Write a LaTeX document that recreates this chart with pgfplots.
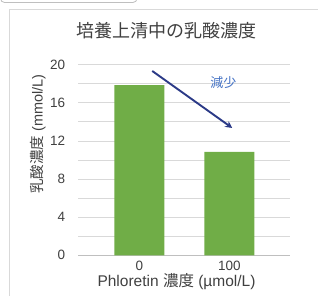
\documentclass[border=0pt]{standalone}
\usepackage{pgfplots}
\pgfplotsset{compat=1.18}
\usetikzlibrary{arrows.meta}
\usepackage{fontspec}
\setmainfont{Liberation Sans}
\newfontfamily\cjk{Noto Sans CJK JP}
\definecolor{barg}{HTML}{70AD47}
\definecolor{gridc}{HTML}{D9D9D9}
\definecolor{axc}{HTML}{BFBFBF}
\definecolor{txt}{HTML}{404040}
\definecolor{arrc}{HTML}{2B3A87}
\definecolor{lblue}{HTML}{4472C4}
\begin{document}
\begin{tikzpicture}[x=1pt,y=1pt]
\useasboundingbox (0,0) rectangle (318,296);
\draw[color=gridc, line width=1pt] (9.5,0) -- (9.5,286) -- (318,286);
\begin{scope}
\clip (0,0) rectangle (318,296);
\draw[color=axc, line width=0.8pt, rounded corners=4pt] (0.5,300) -- (0.5,293.5) -- (137,293.5) -- (137,300);
\end{scope}
\node[font=\cjk\fontsize{18}{21}\selectfont, text=txt] at (166.5,265) {培養上清中の乳酸濃度};
\node[rotate=90, font=\fontsize{14.5}{16}\selectfont, text=txt, inner sep=0pt] at (38,162) {{\cjk 乳酸濃度} (mmol/L)};
\node[font=\fontsize{15.5}{18}\selectfont, text=txt, inner sep=0pt] at (176.5,14) {Phloretin {\cjk 濃度} (µmol/L)};
\begin{axis}[
  at={(87,42.7)}, anchor=south west,
  width=212pt, height=190.6pt, scale only axis,
  xmin=-0.678, xmax=1.678, ymin=0, ymax=20,
  xtick={0,1}, xticklabels={0,100},
  ytick={0,4,...,20}, minor ytick={2,6,...,18},
  ymajorgrids, yminorgrids,
  major grid style={color=gridc, line width=0.8pt},
  minor grid style={color=gridc, line width=0.8pt},
  major tick length=0pt, minor tick length=0pt,
  axis x line*=bottom, axis y line*=left,
  x axis line style={color=axc, line width=1.2pt, -},
  y axis line style={draw=none},
  /pgf/number format/assume math mode=true,
  tick label style={font=\fontsize{13.5}{15}\selectfont, text=txt},
  yticklabel style={inner sep=0pt, anchor=east, xshift=-13pt},
  xticklabel style={inner sep=0pt, anchor=north, yshift=-6pt},
  clip=false,
]
\addplot[ybar, bar width=50pt, fill=barg, draw=none] coordinates {(0,17.85) (1,10.85)};
\draw[-{Stealth[length=7pt,width=7pt]}, color=arrc, line width=1.9pt] (axis cs:0.144,19.34) -- (axis cs:1.033,13.36);
\node[font=\cjk\fontsize{13}{15}\selectfont, text=lblue] at (axis cs:0.933,18.08) {減少};
\end{axis}
\end{tikzpicture}
\end{document}
